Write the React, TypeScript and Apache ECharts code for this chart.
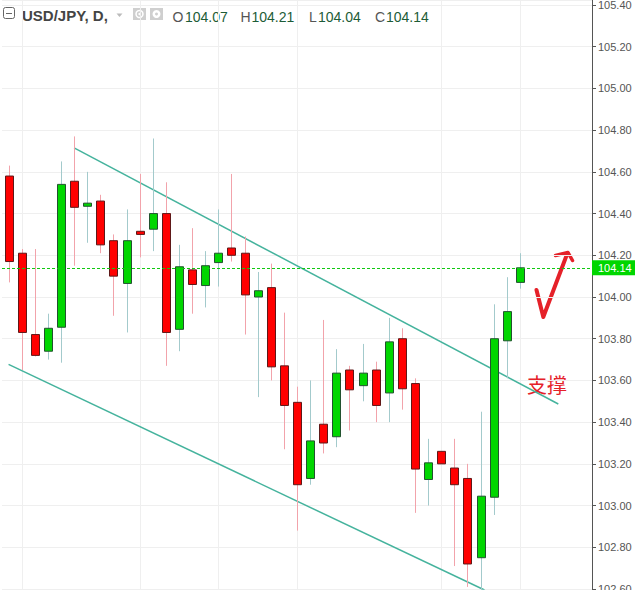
import React, { useEffect, useRef } from "react";
import * as echarts from "echarts";

// Daily USD/JPY candles (index 0..39)
const opens = [
  104.58, 104.21, 103.82, 103.74, 103.855, 104.555, 104.435, 104.46, 104.27, 104.065,
  104.315, 104.325, 104.40, 103.845, 104.13, 104.055, 104.165, 104.235, 104.21, 104.00,
  104.045, 103.67, 103.495, 103.13, 103.39, 103.33, 103.65, 103.575, 103.65, 103.54,
  103.80, 103.585, 103.125, 103.26, 103.18, 103.13, 102.75, 103.04, 103.79, 104.07,
];
const highs = [
  104.63, 104.23, 104.23, 103.92, 104.65, 104.77, 104.60, 104.49, 104.30, 104.42,
  104.59, 104.76, 104.55, 104.25, 104.33, 104.22, 104.42, 104.59, 104.29, 104.12,
  104.16, 103.925, 103.57, 103.60, 103.89, 103.75, 103.67, 103.775, 103.69, 103.90,
  103.85, 103.61, 103.32, 103.26, 103.32, 103.20, 103.45, 103.965, 104.095, 104.21,
];
const lows = [
  104.07, 103.65, 103.715, 103.70, 103.685, 104.15, 104.26, 104.21, 103.91, 103.83,
  104.19, 104.22, 103.67, 103.74, 103.92, 103.95, 104.05, 104.17, 103.82, 103.52,
  103.60, 103.27, 102.88, 103.10, 103.25, 103.28, 103.36, 103.50, 103.40, 103.40,
  103.46, 102.965, 103.00, 103.20, 102.71, 102.61, 102.595, 102.955, 103.61, 104.04,
];
const closes = [
  104.17, 103.83, 103.72, 103.85, 104.54, 104.43, 104.45, 104.25, 104.10, 104.27,
  104.30, 104.40, 103.83, 104.145, 104.06, 104.15, 104.21, 104.20, 104.01, 104.03,
  103.665, 103.48, 103.10, 103.31, 103.30, 103.635, 103.555, 103.635, 103.48, 103.785,
  103.56, 103.175, 103.205, 103.20, 103.10, 102.72, 103.045, 103.80, 103.93, 104.14,
];

// y-axis ticks
const yMin = 102.6;
const yMax = 105.424;
const yStep = 0.2;

// vertical grid positions (candle indices)
const vGrid = [1, 10, 16, 22, 33, 39];

// channel lines [index, price]
const upperChannel = [
  [5, 104.715],
  [41.93, 103.487],
];
const lowerChannel = [
  [0, 103.677],
  [36.3, 102.595],
];

const lastPrice = 104.14;
const header = { symbol: "USD/JPY, D,", O: "104.07", H: "104.21", L: "104.04", C: "104.14" };

const FONT = '"Liberation Sans", Arial, sans-serif';

export default function App() {
  const ref = useRef<HTMLDivElement>(null);

  useEffect(() => {
    if (!ref.current) return;
    const chart = echarts.init(ref.current, null, { renderer: "svg" });
    const candles = opens.map((o, i) => [i, o, closes[i], lows[i], highs[i]]);

    const hdrNum = (x: number, t: string, fill: string) => ({
      type: "text",
      x,
      y: 16.5,
      silent: true,
      style: {
        text: t,
        font: `14px ${FONT}`,
        fill,
        textAlign: "left",
        textVerticalAlign: "middle",
      },
    });

    chart.setOption({
      animation: false,
      grid: { left: 2, right: 43, top: 0, bottom: 1, containLabel: false, outerBoundsMode: "none" },
      xAxis: {
        type: "value",
        min: -0.5,
        max: 44.5,
        show: false,
        axisLine: { show: false, onZero: false },
        splitLine: { show: false },
      },
      yAxis: {
        type: "value",
        position: "right",
        min: yMin,
        max: yMax,
        interval: yStep,
        axisLine: { show: true, onZero: false, lineStyle: { color: "#555", width: 1 } },
        axisTick: { show: true, length: 4, lineStyle: { color: "#555" } },
        axisLabel: {
          color: "#555",
          fontSize: 11,
          fontFamily: FONT,
          margin: 6,
          showMaxLabel: false,
          formatter: (v: number) => v.toFixed(2),
        },
        splitLine: { show: true, lineStyle: { color: "#efefef", width: 1 } },
      },
      series: [
        {
          type: "custom",
          name: "vgrid",
          z: 1,
          silent: true,
          data: vGrid.map((v) => [v]),
          encode: { x: 0 },
          renderItem: (params: any, api: any) => {
            const x = Math.round(api.coord([api.value(0), yMin])[0]) + 0.5;
            const cs = params.coordSys;
            return {
              type: "line",
              shape: { x1: x, y1: cs.y, x2: x, y2: cs.y + cs.height + 1 },
              style: { stroke: "#efefef", lineWidth: 1 },
            };
          },
        },
        {
          type: "line",
          name: "upper",
          data: upperChannel,
          z: 3,
          silent: true,
          showSymbol: false,
          symbol: "none",
          lineStyle: { color: "#45b39d", width: 1.5 },
        },
        {
          type: "line",
          name: "lower",
          data: lowerChannel,
          z: 3,
          silent: true,
          showSymbol: false,
          symbol: "none",
          lineStyle: { color: "#45b39d", width: 1.5 },
        },
        {
          type: "custom",
          name: "USDJPY",
          z: 4,
          data: candles,
          encode: { x: 0, y: [1, 2, 3, 4] },
          renderItem: (params: any, api: any) => {
            const i = api.value(0);
            const o = api.value(1);
            const c = api.value(2);
            const l = api.value(3);
            const h = api.value(4);
            const pO = api.coord([i, o]);
            const pC = api.coord([i, c]);
            const pL = api.coord([i, l]);
            const pH = api.coord([i, h]);
            const up = c >= o;
            const cx = Math.round(pO[0]);
            const top = Math.min(pO[1], pC[1]);
            const bot = Math.max(pO[1], pC[1]);
            return {
              type: "group",
              children: [
                {
                  type: "line",
                  shape: { x1: cx + 0.5, y1: pH[1], x2: cx + 0.5, y2: pL[1] },
                  style: { stroke: up ? "#a3cacc" : "#f2a3ab", lineWidth: 1 },
                },
                {
                  type: "rect",
                  shape: { x: cx - 3.5, y: top, width: 8, height: Math.max(bot - top, 2) },
                  style: {
                    fill: up ? "#00d600" : "#ff0000",
                    stroke: up ? "#22522f" : "#5e1818",
                    lineWidth: 1,
                  },
                },
              ],
            };
          },
        },
        {
          type: "line",
          name: "price",
          data: [],
          z: 6,
          silent: true,
          markLine: {
            silent: true,
            symbol: ["none", "none"],
            lineStyle: { color: "#10c810", type: [3, 2], width: 1 },
            label: {
              show: true,
              position: "end",
              distance: 0,
              formatter: lastPrice.toFixed(2),
              backgroundColor: "#00d600",
              color: "#ffffff",
              fontSize: 11,
              fontFamily: FONT,
              padding: [2, 6, 2, 6],
            },
            data: [{ yAxis: lastPrice }],
          },
        },
      ],
      graphic: [
        // collapse icon
        {
          type: "rect",
          silent: true,
          shape: { x: 3.5, y: 7.5, width: 11, height: 11, r: 2 },
          style: { fill: "none", stroke: "#666", lineWidth: 1 },
        },
        {
          type: "line",
          silent: true,
          shape: { x1: 6, y1: 13.5, x2: 12, y2: 13.5 },
          style: { stroke: "#666", lineWidth: 1 },
        },
        {
          type: "text",
          x: 22,
          y: 15,
          silent: true,
          style: {
            text: header.symbol,
            font: `bold 15px ${FONT}`,
            fill: "#444",
            textAlign: "left",
            textVerticalAlign: "middle",
          },
        },
        {
          type: "polygon",
          silent: true,
          shape: { points: [[116.5, 13.5], [122.5, 13.5], [119.5, 17]] },
          style: { fill: "#bbb" },
        },
        // eye icon
        {
          type: "rect",
          silent: true,
          shape: { x: 133, y: 8, width: 13, height: 12 },
          style: { fill: "#cfcfcf" },
        },
        {
          type: "circle",
          silent: true,
          shape: { cx: 139.5, cy: 14, r: 3.5 },
          style: { fill: "none", stroke: "#fff", lineWidth: 1.5 },
        },
        {
          type: "circle",
          silent: true,
          shape: { cx: 139.5, cy: 14, r: 1.2 },
          style: { fill: "#fff" },
        },
        // gear icon
        {
          type: "rect",
          silent: true,
          shape: { x: 150, y: 8, width: 13, height: 12 },
          style: { fill: "#cfcfcf" },
        },
        {
          type: "circle",
          silent: true,
          shape: { cx: 156.5, cy: 14, r: 4 },
          style: { fill: "#fff" },
        },
        {
          type: "circle",
          silent: true,
          shape: { cx: 156.5, cy: 14, r: 1.5 },
          style: { fill: "#cfcfcf" },
        },
        hdrNum(172.5, "O", "#555"),
        hdrNum(185, header.O, "#1d5c37"),
        hdrNum(240.5, "H", "#555"),
        hdrNum(251.5, header.H, "#1d5c37"),
        hdrNum(309, "L", "#555"),
        hdrNum(318, header.L, "#1d5c37"),
        hdrNum(375, "C", "#555"),
        hdrNum(386, header.C, "#1d5c37"),
        // hand-drawn arrow annotation
        {
          type: "polyline",
          silent: true,
          shape: { points: [[536.5, 290], [543.3, 317], [567.5, 253]] },
          style: { stroke: "#e52129", lineWidth: 4, lineCap: "round", lineJoin: "round", fill: "none" },
        },
        {
          type: "polyline",
          silent: true,
          shape: { points: [[555.5, 255.5], [568, 252.5], [572.5, 260.5]] },
          style: { stroke: "#e52129", lineWidth: 3.5, lineCap: "round", lineJoin: "round", fill: "none" },
        },
        {
          type: "text",
          x: 527,
          y: 384,
          silent: true,
          style: {
            text: "支撑",
            font: '20px "Noto Sans CJK SC", sans-serif',
            fill: "#e52129",
            textAlign: "left",
            textVerticalAlign: "middle",
          },
        },
      ],
    });

    return () => chart.dispose();
  }, []);

  return (
    <div
      ref={ref}
      style={{ position: "absolute", left: 0, top: 0, width: 635, height: 590, background: "#fff" }}
    />
  );
}
